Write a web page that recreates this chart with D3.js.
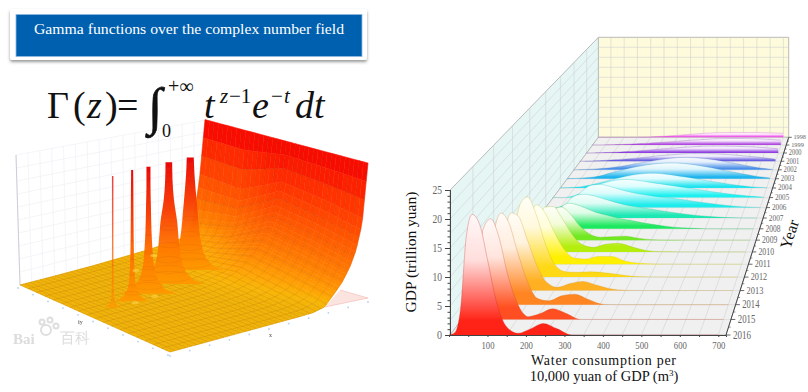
<!DOCTYPE html>
<html>
<head>
<meta charset="utf-8">
<style>
  html, body { margin: 0; padding: 0; background: #fff; }
  svg { display: block; }
  text { font-family: "Liberation Serif", "Times New Roman", serif; }
</style>
</head>
<body>
<svg id="chart" width="808" height="392"></svg>
<script src="https://cdn.jsdelivr.net/npm/d3@7"></script>
<script>
// ---- ridge chart data (right) ----
const waterGrid = [0, 15, 30, 45, 60, 80, 100, 125, 150, 180, 210, 245, 280, 320, 360, 400, 450, 500, 550, 600, 650, 700];
const years = [1998, 1999, 2000, 2001, 2002, 2003, 2004, 2005, 2006, 2007, 2008, 2009, 2010, 2011, 2012, 2013, 2014, 2015, 2016];
const yearColors = ['#f050e8', '#b048e0', '#9040e0', '#6a5ee0', '#4a90e8', '#1fb4ee', '#22e4f0', '#1ff0f0', '#1fecec', '#1fe8b4', '#1fe860', '#70e820', '#b4ee10', '#fff000', '#ffd814', '#ffb020', '#ff8420', '#ff5020', '#ff2418'];
const gdp1998 = [0, 0, 0, 0, 0, 0, 0, 0, .03, .08, .15, .25, .4, .6, .8, 1, 1.15, 1.2, 1.2, 1.2, 1.1, 1];
const gdp1999 = [0, 0, 0, .02, .04, .08, .12, .18, .25, .35, .45, .6, .75, .95, 1.15, 1.3, 1.5, 1.6, 1.6, 1.55, 1.4, 1.2];
const gdp2000 = [0, 0, .02, .04, .08, .12, .18, .25, .35, .45, .6, .8, 1, 1.2, 1.4, 1.55, 1.65, 1.65, 1.6, 1.5, 1.3, 1];
const gdp2001 = [0, .02, .05, .08, .12, .18, .25, .35, .45, .6, .8, 1, 1.3, 1.5, 1.7, 1.8, 1.8, 1.7, 1.5, 1.2, .9, .5];
const gdp2002 = [0, .03, .06, .1, .15, .22, .32, .45, .65, .95, 1.3, 1.7, 2.1, 2.5, 2.8, 2.9, 2.7, 2.3, 1.7, 1.1, .5, .1];
const gdp2003 = [0, .04, .08, .14, .2, .3, .45, .8, 1.3, 1.8, 2.3, 2.8, 3.2, 3.5, 3.6, 3.5, 3.1, 2.5, 1.8, 1.2, .6, .2];
const gdp2004 = [0, .03, .07, .12, .2, .35, .6, 1, 1.4, 1.9, 2.4, 2.9, 3.2, 3.3, 3.1, 2.7, 2.2, 1.6, 1.1, .6, .25, .05];
const gdp2005 = [0, 0, 0, .05, .2, .6, 1.2, 2, 2.8, 3.4, 3.8, 4, 3.8, 3.4, 3, 2.6, 2.1, 1.6, 1.1, .7, .35, .1];
const gdp2006 = [0, 0, 0, .1, .4, 1, 2.2, 3.8, 4.8, 5, 4.6, 3.9, 3.3, 2.8, 2.4, 2.1, 1.7, 1.2, .8, .4, .15, .03];
const gdp2007 = [0, 0, .05, .3, .9, 2, 3.6, 4.8, 5, 4.7, 4.1, 3.4, 2.8, 2.3, 1.9, 1.5, 1, .6, .3, .1, .02, 0];
const gdp2008 = [0, 0, .1, .4, 1.2, 2.6, 4.4, 5.3, 5, 4.2, 3.4, 2.8, 2.2, 1.7, 1.2, .8, .35, .15, .03, 0, 0, 0];
const gdp2009 = [0, 0, .1, .6, 1.8, 4, 6, 6.7, 5.5, 3, 1.3, .6, .7, .8, .4, .1, .02, 0, 0, 0, 0, 0];
const gdp2010 = [0, 0, .2, 1, 3, 6, 8.9, 9, 6.8, 3.6, 1.5, .9, 1.5, 1.7, 1, .3, .03, 0, 0, 0, 0, 0];
const gdp2011 = [0, 0, .3, 1.8, 5, 9, 11.5, 10, 6.5, 3, 1.2, 1, 1.5, 1.5, .6, .2, .05, .01, 0, 0, 0, 0];
const gdp2012 = [0, 0, .4, 2.8, 8, 14, 15.2, 11.8, 6.5, 2.2, 1, .9, 1, .8, .5, .15, .03, 0, 0, 0, 0, 0];
const gdp2013 = [0, 0, .6, 4, 10, 14.4, 13.8, 9.5, 5, 1.5, .6, 1.3, 1.7, 1, .3, .05, 0, 0, 0, 0, 0, 0];
const gdp2014 = [0, .1, 1, 6, 13, 16.6, 15, 9.5, 4.5, 1.1, .7, 1.6, 1.9, .9, .05, 0, 0, 0, 0, 0, 0, 0];
const gdp2015 = [0, .2, 2, 9, 16, 17.8, 15, 8, 3, .5, 1, 1.9, 1.1, 0, 0, 0, 0, 0, 0, 0, 0, 0];
const gdp2016 = [0, .4, 4.5, 17, 20.8, 19, 13, 5.3, 1.4, .3, 1, 2, 1.1, 0, 0, 0, 0, 0, 0, 0, 0, 0];
const ridgeRows = [gdp1998, gdp1999, gdp2000, gdp2001, gdp2002, gdp2003, gdp2004, gdp2005, gdp2006, gdp2007, gdp2008, gdp2009, gdp2010, gdp2011, gdp2012, gdp2013, gdp2014, gdp2015, gdp2016];
const waterTicks = [100, 200, 300, 400, 500, 600, 700];
const gdpTicks = [0, 5, 10, 15, 20, 25];

// ---- gamma surface data (left), heights in percent of the clipped top ----
const surfaceU = [0, .2, .4, .55, .65, .72, .78, .83, .87, .91, .94, .97, 1];
const surfaceV = [0, .25, .5, .75, 1];
const surfaceV0 = [0, 0, 0, 0, 0, .2, 2, 10, 17, 27, 38, 56, 100];
const surfaceV25 = [0, 0, 0, .2, 1, 3, 7, 14, 22, 33, 44, 62, 100];
const surfaceV50 = [0, 0, .3, 1, 3, 6, 11, 18, 26, 37, 48, 66, 100];
const surfaceV75 = [0, 0, .3, 1, 2, 3, 5, 8, 12, 18, 28, 48, 100];
const surfaceV100 = [0, 0, .3, 1, 1.5, 2, 2.5, 3, 4, 8, 20, 50, 100];
const surfaceRows = [surfaceV0, surfaceV25, surfaceV50, surfaceV75, surfaceV100];
const poleU = [.68, .5, .36, .25, .14];
const poleV = [.72, .64, .6, .57, .56];
const poleHeight = [92, 98.5, 102, 105, 105];
const poleLevels = [0, .03, .07, .12, .2, .35, .5, .7, .85, 1];
const pole5Spread = [34, 24, 19, 15, 12, 9, 7.5, 5.5, 4.2, 3.5];
const pole4Spread = [36, 26, 20, 16, 12.5, 10, 8.5, 5, 3.7, 3.3];
const pole3Spread = [28, 18, 13, 9, 6, 4, 3, 2.4, 2, 2];
const pole2Spread = [16, 10, 6, 3.8, 2.6, 1.8, 1.5, 1.3, 1.2, 1];
const pole1Spread = [8, 3, 1.5, 1.1, .9, .8, .7, .7, .7, .7];
const poleSpreads = [pole5Spread, pole4Spread, pole3Spread, pole2Spread, pole1Spread];
const flashU = [.36, .25, .5, .68];
const flashV = [.56, .55, .85, .95];

const svg = d3.select('#chart');
const defs = svg.append('defs');

defs.append('filter').attr('id', 'soft').append('feGaussianBlur').attr('stdDeviation', 0.45);
defs.append('filter').attr('id', 'softer').append('feGaussianBlur').attr('stdDeviation', 0.3);
defs.append('filter').attr('id', 'shadow')
  .attr('x', '-5%').attr('y', '-10%').attr('width', '110%').attr('height', '130%')
  .append('feDropShadow')
  .attr('dx', 0).attr('dy', 2).attr('stdDeviation', 1.5).attr('flood-color', '#555').attr('flood-opacity', 0.6);

// title box
svg.append('rect').attr('x', 10).attr('y', 9).attr('width', 357).attr('height', 51).attr('rx', 2)
  .attr('fill', '#fff').attr('filter', 'url(#shadow)');
svg.append('rect').attr('x', 16).attr('y', 14.5).attr('width', 346).attr('height', 42)
  .attr('fill', '#0060b0').attr('stroke', '#8fb8e0').attr('stroke-width', 0.8);
svg.append('text').attr('x', 189).attr('y', 34).attr('text-anchor', 'middle')
  .attr('fill', '#fff').attr('font-size', 15).attr('textLength', 310).attr('lengthAdjust', 'spacingAndGlyphs')
  .text('Gamma functions over the complex number field');

// ---- left panel: surface ----
const cornerA = [170, 352];
const cornerB = [368, 298];
const cornerC = [20, 285];
const cornerD = [205, 237];
const floorAt = (u, v) => [0, 1].map(k =>
  (1 - u) * (1 - v) * cornerA[k] + u * (1 - v) * cornerB[k] + (1 - u) * v * cornerC[k] + u * v * cornerD[k]);
const heightPx = d3.scaleLinear().domain([0, 100]).range([0, 135]);
const backShrink = d3.scaleLinear().domain([0, 1]).range([1, 0.87]);
const surfacePoint = (u, v, h) => {
  const p = floorAt(u, v);
  return [p[0], p[1] - heightPx(h) * backShrink(v)];
};
const rowScales = surfaceRows.map(r => d3.scaleLinear().domain(surfaceU).range(r));
const surfaceHeight = (u, v) => {
  const vi = Math.min(surfaceV.length - 2, d3.bisectRight(surfaceV, v) - 1);
  const f = (v - surfaceV[vi]) / (surfaceV[vi + 1] - surfaceV[vi]);
  return rowScales[vi](u) * (1 - f) + rowScales[vi + 1](u) * f;
};
const heatScale = d3.scaleLinear()
  .domain([0, 3, 8, 18, 30, 45, 65, 85, 100])
  .range(['#eeb000', '#f8b400', '#ffa000', '#ff8200', '#ff6a00', '#ff5000', '#ff3000', '#f81000', '#f00000']);

const left = svg.append('g').attr('filter', 'url(#soft)');

// faint walls behind the surface
const wallLines = left.append('g').attr('stroke', '#eceff2').attr('stroke-width', 0.6).attr('fill', 'none');
const wallCorner = [16, 155];
const wallEnd = [206, 120];
d3.range(0, 1.001, 0.0625).forEach(t => {
  wallLines.append('line')
    .attr('x1', cornerC[0] + (cornerD[0] - cornerC[0]) * t).attr('y1', cornerC[1] + (cornerD[1] - cornerC[1]) * t)
    .attr('x2', wallCorner[0] + (wallEnd[0] - wallCorner[0]) * t).attr('y2', wallCorner[1] + (wallEnd[1] - wallCorner[1]) * t);
});
d3.range(0, 1.001, 0.1).forEach(t => {
  wallLines.append('line')
    .attr('x1', wallCorner[0] + (cornerC[0] - wallCorner[0]) * t).attr('y1', wallCorner[1] + (cornerC[1] - wallCorner[1]) * t)
    .attr('x2', wallEnd[0] + (cornerD[0] - wallEnd[0]) * t).attr('y2', wallEnd[1] + (cornerD[1] - wallEnd[1]) * t);
});
left.append('line').attr('x1', wallCorner[0]).attr('y1', wallCorner[1]).attr('x2', cornerC[0]).attr('y2', cornerC[1])
  .attr('stroke', '#ccd').attr('stroke-width', 1);

// shadow of the wall on the floor near the right corner
left.append('path')
  .attr('d', d3.line()([[340, 290], [368, 298], [325, 307]]))
  .attr('fill', '#fbe4e0').attr('stroke', '#f0a8a0').attr('stroke-width', 0.5);

// surface cells, painted from the wall towards the viewer
const uSteps = d3.range(0, 1.0001, 1 / 110);
const vSteps = d3.range(0, 1.0001, 1 / 36);
const cellRows = [];
for (let ui = uSteps.length - 2; ui >= 0; ui--) {
  for (let vi = vSteps.length - 2; vi >= 0; vi--) {
    cellRows.push({ ui, vi });
  }
}
const cornerPoint = (ui, vi) => surfacePoint(uSteps[ui], vSteps[vi], surfaceHeight(uSteps[ui], vSteps[vi]));
const closedLine = d3.line().curve(d3.curveLinearClosed);
left.append('g').selectAll('path')
  .data(cellRows)
  .enter()
  .append('path')
  .attr('d', d => closedLine([
    cornerPoint(d.ui, d.vi), cornerPoint(d.ui + 1, d.vi),
    cornerPoint(d.ui + 1, d.vi + 1), cornerPoint(d.ui, d.vi + 1),
  ]))
  .attr('fill', d => heatScale(surfaceHeight(uSteps[d.ui], vSteps[d.vi])))
  .attr('stroke', d => heatScale(surfaceHeight(uSteps[d.ui], vSteps[d.vi])))
  .attr('stroke-width', 0.5);

// mesh
const mesh = left.append('g').attr('fill', 'none').attr('stroke', '#7a3000').attr('stroke-opacity', 0.22).attr('stroke-width', 0.5);
const meshLine = d3.line();
uSteps.filter((u, i) => i % 3 === 0).forEach((u) => {
  mesh.append('path').attr('d', meshLine(vSteps.map(v => surfacePoint(u, v, surfaceHeight(u, v)))));
});
vSteps.filter((v, i) => i % 2 === 0).forEach((v) => {
  mesh.append('path').attr('d', meshLine(uSteps.map(u => surfacePoint(u, v, surfaceHeight(u, v)))));
});

// poles of the gamma function, back to front
const poleGrad = defs.append('linearGradient').attr('id', 'poleFill')
  .attr('x1', 0).attr('y1', 1).attr('x2', 0).attr('y2', 0);
[[0, '#ff9800'], [0.3, '#ff7800'], [0.6, '#f83c00'], [1, '#e80000']].forEach(s =>
  poleGrad.append('stop').attr('offset', s[0]).attr('stop-color', s[1]));
const spreadPx = d3.scaleLinear().domain([0, 30]).range([0, 30]);
poleU.forEach((u, i) => {
  const base = floorAt(u, poleV[i]);
  const topPoint = surfacePoint(u, poleV[i], poleHeight[i]);
  const levelY = d3.scaleLinear().domain([0, 1]).range([base[1], topPoint[1]]);
  const shape = d3.area()
    .y(l => levelY(l))
    .x0((l, k) => base[0] - spreadPx(poleSpreads[i][k]))
    .x1((l, k) => base[0] + spreadPx(poleSpreads[i][k]))
    .curve(d3.curveMonotoneY);
  left.append('path').attr('d', shape(poleLevels))
    .attr('fill', 'url(#poleFill)')
    .attr('fill-opacity', i === 4 ? 0.75 : 0.96);
  // contour rings on the flared part
  [0.06, 0.12, 0.2, 0.32, 0.46].forEach((l) => {
    const k = d3.scaleLinear().domain(poleLevels).range(poleSpreads[i])(l);
    left.append('ellipse').attr('cx', base[0]).attr('cy', levelY(l)).attr('rx', spreadPx(k)).attr('ry', spreadPx(k) * 0.25)
      .attr('fill', 'none').attr('stroke', '#7a3000').attr('stroke-opacity', 0.14).attr('stroke-width', 0.5);
  });
});

// little light flashes at the foot of the poles
flashU.forEach((u, i) => {
  const p = floorAt(u, flashV[i]);
  left.append('ellipse').attr('cx', p[0]).attr('cy', p[1]).attr('rx', 3.5).attr('ry', 1.6)
    .attr('fill', '#ffdc50').attr('fill-opacity', 0.55);
});

// axis dots
const axisDots = left.append('g').attr('fill', '#b8d0f0');
d3.range(0, 1.001, 1 / 10).forEach(t => {
  axisDots.append('circle').attr('cx', cornerA[0] + (cornerB[0] - cornerA[0]) * t).attr('cy', cornerA[1] + (cornerB[1] - cornerA[1]) * t + 4).attr('r', 0.9);
  axisDots.append('circle').attr('cx', cornerA[0] + (cornerC[0] - cornerA[0]) * t - 2).attr('cy', cornerA[1] + (cornerC[1] - cornerA[1]) * t + 3).attr('r', 0.9);
});
left.append('text').attr('x', 78).attr('y', 324).attr('font-size', 6).attr('font-weight', 'bold').attr('fill', '#777').text('iy');
left.append('text').attr('x', 269).attr('y', 337).attr('font-size', 6).attr('font-weight', 'bold').attr('fill', '#777').text('x');

// watermark
const mark = left.append('g').attr('fill', 'none').attr('stroke', '#dedede').attr('stroke-width', 2);
[[46, 330, 5], [42, 322, 2.5], [50, 320, 2.5], [56, 326, 2.5]].forEach(c =>
  mark.append('circle').attr('cx', c[0]).attr('cy', c[1]).attr('r', c[2]));
const markText = left.append('g').attr('fill', '#dcdcdc');
markText.append('text').attr('x', 13).attr('y', 344).attr('font-size', 15).attr('font-family', 'Liberation Sans').attr('font-weight', 'bold').text('Bai');
markText.append('text').attr('x', 60).attr('y', 343).attr('font-size', 15).attr('font-family', '"Noto Sans CJK SC"').text('百科');

// formula goes on top of the surface corner
const formula = svg.append('g').attr('fill', '#111');
const formulaPart = (x, y, size, str, italic) =>
  formula.append('text').attr('x', x).attr('y', y).attr('font-size', size)
    .attr('font-style', italic ? 'italic' : 'normal').text(str);
formulaPart(47, 118, 38, 'Γ', false);
formulaPart(73, 118, 38, '(', false);
formulaPart(87, 118, 38, 'z', true);
formulaPart(105, 118, 38, ')', false);
formulaPart(117, 118, 38, '=', false);
formulaPart(148, 124, 52, '∫', false).attr('stroke', '#111').attr('stroke-width', 0.6);
formulaPart(168, 93, 20, '+∞', false);
formulaPart(162, 137, 18, '0', false);
formulaPart(204, 118, 38, 't', true);
formulaPart(220, 103, 21, 'z', true);
formulaPart(229, 103, 21, '−1', false);
formulaPart(252, 118, 38, 'e', true);
formulaPart(271, 103, 21, '−', false);
formulaPart(284, 103, 21, 't', true);
formulaPart(295, 118, 38, 'dt', true);

// ---- right panel: ridges in perspective ----
const xScale = d3.scaleLinear().domain([0, 720]).range([449, 726]);
const gdpScale = d3.scaleLinear().domain([0, 25]).range([335, 190]);
const yearScale = d3.scaleLinear().domain([2016, 1998]).range([0, 1]);
const vanishX = 928;
const vanishY = -302;
const depth = year => 1 / (1 + 0.45 * yearScale(year));
const project = (x, gdp, year) => {
  const s = depth(year);
  return [vanishX + (xScale(x) - vanishX) * s, vanishY + (gdpScale(gdp) - vanishY) * s];
};
const poly = pts => closedLine(pts);

const right = svg.append('g');
// walls and floor
right.append('path').attr('d', poly([project(3, 0, 2016), project(3, 25, 2016), project(3, 25, 1998), project(3, 0, 1998)]))
  .attr('fill', '#e6f6f5').attr('stroke', '#aaa').attr('stroke-width', 0.8);
right.append('path').attr('d', poly([project(3, 0, 1998), project(3, 25, 1998), project(720, 25, 1998), project(720, 0, 1998)]))
  .attr('fill', '#fdfbdc').attr('stroke', '#aaa').attr('stroke-width', 0.8);
right.append('path').attr('d', poly([project(3, 0, 2016), project(3, 0, 1998), project(720, 0, 1998), project(720, 0, 2016)]))
  .attr('fill', '#f0f0f0').attr('stroke', '#aaa').attr('stroke-width', 0.6);

const grid = right.append('g').attr('fill', 'none').attr('stroke', '#c8cccc').attr('stroke-width', 0.5);
const gridLine = (a, b) => grid.append('line').attr('x1', a[0]).attr('y1', a[1]).attr('x2', b[0]).attr('y2', b[1]);
d3.range(50, 720, 50).forEach((x) => {
  gridLine(project(x, 0, 2016), project(x, 0, 1998));
  gridLine(project(x, 0, 1998), project(x, 25, 1998));
});
years.forEach((year) => {
  gridLine(project(3, 0, year), project(720, 0, year));
  if (year % 2 === 0) gridLine(project(3, 0, year), project(3, 25, year));
});
d3.range(2.5, 25, 2.5).forEach((g) => {
  gridLine(project(3, g, 2016), project(3, g, 1998));
  gridLine(project(3, g, 1998), project(720, g, 1998));
});

// ridges
const ridges = right.append('g').attr('filter', 'url(#softer)');
years.forEach((year, i) => {
  const base = d3.color(yearColors[i]);
  const toWhite = d3.interpolateRgb(base.formatHex(), '#ffffff');
  const grad = defs.append('linearGradient').attr('id', `ridge${year}`)
    .attr('x1', 0).attr('y1', 1).attr('x2', 0).attr('y2', 0);
  grad.append('stop').attr('offset', 0).attr('stop-color', base.formatHex());
  grad.append('stop').attr('offset', 0.12).attr('stop-color', base.formatHex());
  grad.append('stop').attr('offset', 0.62).attr('stop-color', toWhite(0.85));
  grad.append('stop').attr('offset', 1).attr('stop-color', toWhite(0.97));

  const points = waterGrid.map((x, k) => ({ x, v: ridgeRows[i][k] }));
  const floorY = project(0, 0, year)[1];
  const area = d3.area()
    .x(d => project(d.x, d.v, year)[0])
    .y0(floorY)
    .y1(d => project(d.x, d.v, year)[1])
    .curve(d3.curveMonotoneX);
  const outline = d3.line()
    .x(d => project(d.x, d.v, year)[0])
    .y(d => project(d.x, d.v, year)[1])
    .curve(d3.curveMonotoneX);
  ridges.append('path').attr('d', area(points)).attr('fill', `url(#ridge${year})`);
  ridges.append('path').attr('d', outline(points)).attr('fill', 'none')
    .attr('stroke', base.darker(0.6).formatHex()).attr('stroke-opacity', 0.4).attr('stroke-width', 0.7);
});

// axes
const axisStyle = (g) => {
  g.select('.domain').attr('stroke', '#444');
  g.selectAll('.tick line').attr('stroke', '#444');
  g.selectAll('text').attr('fill', '#666').attr('font-family', '"Liberation Serif"');
};
right.append('g').attr('transform', 'translate(450,0)')
  .call(d3.axisLeft(gdpScale).tickValues(d3.range(0, 26)).tickSize(2.5).tickFormat(''))
  .call(axisStyle);
right.append('g').attr('transform', 'translate(450,0)')
  .call(d3.axisLeft(gdpScale).tickValues(gdpTicks).tickSize(5).tickPadding(3))
  .call(axisStyle)
  .call(g => g.selectAll('text').attr('font-size', 12).attr('textLength', d => (d < 10 ? 5 : 9.5)).attr('lengthAdjust', 'spacingAndGlyphs'));
right.append('g').attr('transform', 'translate(0,335)')
  .call(d3.axisBottom(xScale).tickValues(d3.range(50, 701, 50)).tickSize(2).tickFormat(''))
  .call(axisStyle);
right.append('g').attr('transform', 'translate(0,335)')
  .call(d3.axisBottom(xScale).tickValues(waterTicks).tickSize(0).tickPadding(6))
  .call(axisStyle)
  .call(g => g.select('.domain').remove())
  .call(g => g.selectAll('text').attr('font-size', 11).attr('textLength', 13).attr('lengthAdjust', 'spacingAndGlyphs'));

// oblique year axis
const yearAxis = right.append('g');
const yearFont = d3.scaleLinear().domain([0.69, 1]).range([6.8, 12.5]);
const front = project(720, 0, 2016);
const back = project(720, 0, 1998);
yearAxis.append('line').attr('x1', front[0]).attr('y1', front[1]).attr('x2', back[0]).attr('y2', back[1]).attr('stroke', '#444').attr('stroke-width', 1);
years.forEach((year) => {
  const s = depth(year);
  const p = project(720, 0, year);
  yearAxis.append('line').attr('x1', p[0]).attr('y1', p[1]).attr('x2', p[0] + 4.5 * s).attr('y2', p[1]).attr('stroke', '#444').attr('stroke-width', 0.8);
  yearAxis.append('text')
    .attr('x', p[0] + 7 * s).attr('y', p[1] + 0.3 * yearFont(s))
    .attr('font-size', yearFont(s)).attr('textLength', 18 * s).attr('lengthAdjust', 'spacingAndGlyphs')
    .attr('fill', '#666').text(year);
  if (year > 1998) {
    const q = project(720, 0, year - 0.5);
    yearAxis.append('line').attr('x1', q[0]).attr('y1', q[1]).attr('x2', q[0] + 2.2 * s).attr('y2', q[1]).attr('stroke', '#444').attr('stroke-width', 0.6);
  }
});

// captions
svg.append('text').attr('x', 603.5).attr('y', 364.5).attr('text-anchor', 'middle').attr('font-size', 14).attr('fill', '#111')
  .attr('textLength', 145).attr('lengthAdjust', 'spacing').text('Water consumption per');
const cap2 = svg.append('text').attr('x', 604).attr('y', 381).attr('text-anchor', 'middle').attr('font-size', 14.5).attr('fill', '#111');
cap2.append('tspan').text('10,000 yuan of GDP (m');
cap2.append('tspan').attr('font-size', 9).attr('dy', -5).text('3');
cap2.append('tspan').attr('dy', 5).text(')');
svg.append('text').attr('transform', 'translate(416,252) rotate(-90)').attr('text-anchor', 'middle').attr('font-size', 15.5).attr('fill', '#111')
  .text('GDP (trillion yuan)');
svg.append('text').attr('transform', 'translate(790,250) rotate(-72)').attr('font-size', 16).attr('fill', '#111').text('Year');
</script>
</body>
</html>
